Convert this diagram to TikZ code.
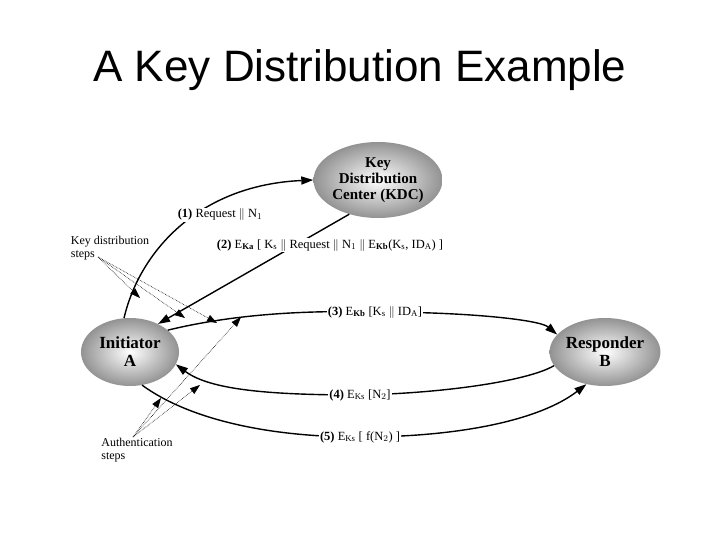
\documentclass[tikz,border=0pt]{standalone}
\usepackage{fontspec}
\setmainfont{Liberation Serif}
\newfontfamily\titlefont{Liberation Sans}
\usetikzlibrary{arrows.meta,shapes.geometric}
\begin{document}
\begin{tikzpicture}[x=1pt,y=-1pt,
  ent/.style={ellipse,minimum width=98pt,minimum height=68pt,inner sep=0pt,align=center,font=\fontsize{17}{18}\selectfont\bfseries,inner color=white,outer color=gray!85,draw=none},
  msg/.style={line width=1.4pt,-{Triangle[length=12pt,width=8pt]}},
  dot/.style={densely dotted,line width=0.6pt,-{Triangle[length=10pt,width=7pt]}},
  lab/.style={font=\fontsize{12.5}{13}\selectfont,fill=white,inner sep=1pt},
  note/.style={font=\fontsize{12}{12.5}\selectfont,align=left,inner sep=0pt}]
\useasboundingbox (0,0) rectangle (720,540);
\node[font=\titlefont\fontsize{44}{48}\selectfont] (title) at (360,70) {A Key Distribution Example};
\node[ent,minimum width=96pt,minimum height=76pt,font=\fontsize{15}{16}\selectfont\bfseries] (kdc) at (378,180) {Key\\Distribution\\Center (KDC)};
\node[ent] (a) at (130,352) {Initiator\\A};
\node[ent] (b) at (605,352) {Responder\\B};
% (1)
\draw[msg] (a.100) .. controls (140,250) and (200,185) .. (kdc.west);
\node[lab] (l1) at (220,215) {\textbf{(1)} Request $\|$ N$_1$};
% (2)
\draw[msg] (kdc.230) -- (a.45);
\node[lab] (l2) at (330,245) {\textbf{(2)} E$_{\mathbf{Ka}}$ [ K$_\mathrm{s}$ $\|$ Request $\|$ N$_1$ $\|$ E$_{\mathbf{Kb}}$(K$_\mathrm{s}$, ID$_\mathrm{A}$) ]};
% (3)
\draw[msg] (a.30) .. controls (230,315) and (300,310) .. (375,312) .. controls (470,312) and (540,320) .. (b.160);
\node[lab] (l3) at (375,312) {\textbf{(3)} E$_{\mathbf{Kb}}$ [K$_\mathrm{s}$ $\|$ ID$_\mathrm{A}$]};
% (4)
\draw[msg] (b.195) .. controls (530,380) and (450,393) .. (360,395) .. controls (270,395) and (210,390) .. (a.-15);
\node[lab] (l4) at (360,395) {\textbf{(4)} E$_\mathrm{Ks}$ [N$_2$]};
% (5)
\draw[msg] (a.-70) .. controls (190,420) and (270,437) .. (360,437) .. controls (460,437) and (540,420) .. (b.-120);
\node[lab] (l5) at (360,437) {\textbf{(5)} E$_\mathrm{Ks}$ [ f(N$_2$) ]};
% notes
\node[note] (kd) at (110,248) {Key distribution\\steps};
\coordinate (kdp) at (98,257);
\coordinate (k1) at (140,298);
\coordinate (k2) at (185,318);
\coordinate (k3) at (217,323);
\draw[dot] (kdp) -- (k1);
\draw[dot] (kdp) -- (k2);
\draw[dot] (kdp) -- (k3);
\node[note] (au) at (137,450) {Authentication\\steps};
\coordinate (aup) at (133,437);
\coordinate (u1) at (161,398);
\coordinate (u2) at (200,385);
\coordinate (u3) at (241,317);
\draw[dot] (aup) -- (u1);
\draw[dot] (aup) -- (u2);
\draw[dot] (aup) -- (u3);
\end{tikzpicture}
\end{document}
